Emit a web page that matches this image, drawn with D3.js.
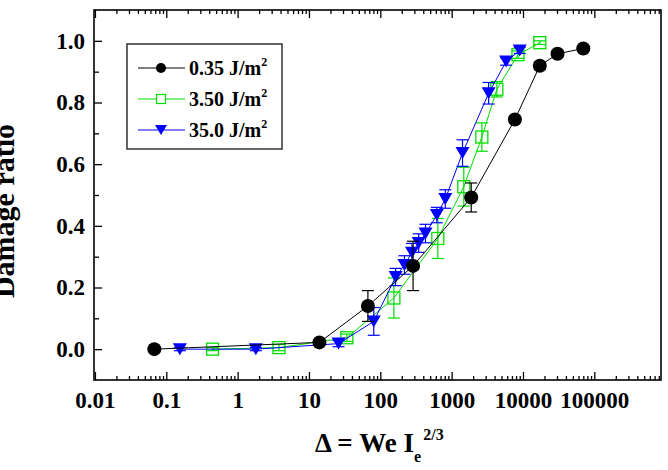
<!DOCTYPE html>
<html>
<head>
<meta charset="utf-8">
<script src="https://cdn.jsdelivr.net/npm/d3@7"></script>
<style>
  body { margin: 0; background: #fff; }
  svg { display: block; font-family: "Liberation Serif", "Times New Roman", serif; font-weight: bold; }
</style>
</head>
<body>
<svg id="chart" width="668" height="470"></svg>
<script>
// series values
var blackX = [0.068, 14, 67, 288, 1880, 7700, 17200, 30500, 70000]
var blackY = [0.0, 0.022, 0.14, 0.27, 0.492, 0.745, 0.919, 0.958, 0.975]
var blackErr = [0.005, 0.008, 0.05, 0.08, 0.047, 0.01, 0.012, 0.01, 0.008]

var greenX = [0.445, 3.8, 34, 155, 640, 1480, 2650, 4300, 8500, 17200]
var greenY = [0.0, 0.005, 0.037, 0.166, 0.359, 0.527, 0.688, 0.843, 0.955, 0.994]
var greenErr = [0.005, 0.01, 0.012, 0.065, 0.065, 0.063, 0.046, 0.025, 0.012, 0.006]

var blueX = [0.155, 1.8, 26, 81, 164, 218, 278, 345, 430, 620, 815, 1420, 3300, 5800, 9000]
var blueY = [0.0, 0.0, 0.018, 0.09, 0.234, 0.273, 0.313, 0.344, 0.375, 0.435, 0.487, 0.636, 0.83, 0.933, 0.969]
var blueErr = [0.005, 0.005, 0.01, 0.045, 0.028, 0.03, 0.03, 0.03, 0.03, 0.025, 0.03, 0.043, 0.035, 0.012, 0.01]

var legendLabels = ["0.35 J/m", "3.50 J/m", "35.0 J/m"]
var xTickValues = [0.01, 0.1, 1, 10, 100, 1000, 10000, 100000]
var xTickLabels = ["0.01", "0.1", "1", "10", "100", "1000", "10000", "100000"]
var yTickValues = [0.0, 0.2, 0.4, 0.6, 0.8, 1.0]

var margin = {top: 10, right: 7, bottom: 90, left: 94},
    width = 668 - margin.left - margin.right,
    height = 470 - margin.top - margin.bottom

var svg = d3.select("#chart")
var g = svg.append("g")
    .attr("transform", "translate(" + margin.left + "," + margin.top + ")")

var x = d3.scaleLog().domain([0.0097, 860000]).range([0, width])
var y = d3.scaleLinear().domain([-0.1, 1.1]).range([height, 0])

// minor ticks 2..9 in each decade
var xMinor = []
for (var e = -2; e <= 5; e++) {
    for (var k = 2; k <= 9; k++) {
        var v = k * Math.pow(10, e)
        if (v <= x.domain()[1]) xMinor.push(+v.toPrecision(3))
    }
}
var yMinor = [0.1, 0.3, 0.5, 0.7, 0.9]

function styleAxis(sel) {
    sel.select(".domain").remove()
    sel.selectAll("line").attr("stroke", "#000").attr("stroke-width", 1.3)
    sel.selectAll("text").attr("fill", "#000").style("font-size", "23px")
        .style("font-family", "'Liberation Serif', 'Times New Roman', serif").style("font-weight", "bold")
}

// bottom axis
g.append("g").attr("transform", "translate(0," + height + ")")
    .call(d3.axisBottom(x).tickValues(xTickValues).tickSize(-8).tickPadding(12)
        .tickFormat(function (d, i) { return xTickLabels[i] }))
    .call(styleAxis)
g.append("g").attr("transform", "translate(0," + height + ")")
    .call(d3.axisBottom(x).tickValues(xMinor).tickSize(-4).tickFormat(""))
    .call(styleAxis)

// top axis, ticks only
g.append("g")
    .call(d3.axisTop(x).tickValues(xTickValues).tickSize(-8).tickFormat(""))
    .call(styleAxis)
g.append("g")
    .call(d3.axisTop(x).tickValues(xMinor).tickSize(-4).tickFormat(""))
    .call(styleAxis)

// left axis
g.append("g")
    .call(d3.axisLeft(y).tickValues(yTickValues).tickSize(-8).tickPadding(9).tickFormat(d3.format(".1f")))
    .call(styleAxis)
g.append("g")
    .call(d3.axisLeft(y).tickValues(yMinor).tickSize(-5).tickFormat(""))
    .call(styleAxis)

// frame
g.append("rect")
    .attr("width", width).attr("height", height)
    .attr("fill", "none").attr("stroke", "#000").attr("stroke-width", 1.6)

var series = [
    {xs: greenX, ys: greenY, err: greenErr, color: "#00dd00", shape: "square"},
    {xs: blueX, ys: blueY, err: blueErr, color: "#0000ff", shape: "triangle"},
    {xs: blackX, ys: blackY, err: blackErr, color: "#000000", shape: "circle"}
]

function drawMarker(sel, shape, color) {
    if (shape === "circle") {
        sel.append("circle").attr("r", 7).attr("fill", color)
    } else if (shape === "square") {
        sel.append("rect").attr("x", -6).attr("y", -6).attr("width", 12).attr("height", 12)
            .attr("fill", "none").attr("stroke", color).attr("stroke-width", 1.3)
    } else {
        sel.append("path").attr("d", "M-7,-6L7,-6L0,6Z").attr("fill", color)
    }
}

series.forEach(function (s) {
    var pts = s.xs.map(function (d, i) { return {x: d, y: s.ys[i], e: s.err[i]} })
    var sg = g.append("g")

    var line = d3.line()
        .x(function (d) { return x(d.x) })
        .y(function (d) { return y(d.y) })
    sg.append("path").datum(pts)
        .attr("d", line).attr("fill", "none").attr("stroke", s.color).attr("stroke-width", 1)

    // error bars
    var eb = sg.selectAll(".err").data(pts).enter().append("g")
        .attr("stroke", s.color).attr("stroke-width", 1.2)
    eb.append("line")
        .attr("x1", function (d) { return x(d.x) }).attr("x2", function (d) { return x(d.x) })
        .attr("y1", function (d) { return y(d.y - d.e) }).attr("y2", function (d) { return y(d.y + d.e) })
    eb.append("line")
        .attr("x1", function (d) { return x(d.x) - 6 }).attr("x2", function (d) { return x(d.x) + 6 })
        .attr("y1", function (d) { return y(d.y + d.e) }).attr("y2", function (d) { return y(d.y + d.e) })
    eb.append("line")
        .attr("x1", function (d) { return x(d.x) - 6 }).attr("x2", function (d) { return x(d.x) + 6 })
        .attr("y1", function (d) { return y(d.y - d.e) }).attr("y2", function (d) { return y(d.y - d.e) })

    sg.selectAll(".mk").data(pts).enter().append("g")
        .attr("transform", function (d) { return "translate(" + x(d.x) + "," + y(d.y) + ")" })
        .each(function () { drawMarker(d3.select(this), s.shape, s.color) })
})

// legend
var legend = svg.append("g").attr("transform", "translate(127,44)")
legend.append("rect").attr("width", 155).attr("height", 105)
    .attr("fill", "#fff").attr("stroke", "#333").attr("stroke-width", 1.5)
var legendOrder = [series[2], series[0], series[1]]
legendOrder.forEach(function (s, i) {
    var row = legend.append("g").attr("transform", "translate(0," + (24 + i * 31) + ")")
    row.append("line").attr("x1", 11).attr("x2", 58).attr("stroke", s.color).attr("stroke-width", 1)
    var m = row.append("g").attr("transform", "translate(34,0)")
    if (s.shape === "circle") m.append("circle").attr("r", 5).attr("fill", s.color)
    else if (s.shape === "square") m.append("rect").attr("x", -4.5).attr("y", -4.5).attr("width", 9).attr("height", 9)
        .attr("fill", "#fff").attr("stroke", s.color).attr("stroke-width", 1.2)
    else m.append("path").attr("d", "M-6,-5L6,-5L0,5Z").attr("fill", s.color)
    var t = row.append("text").attr("x", 62).attr("y", 7).style("font-size", "20px")
    t.append("tspan").text(legendLabels[i])
    t.append("tspan").attr("dy", -9).style("font-size", "12px").text("2")
})

// axis titles
var xt = svg.append("text").attr("x", 315).attr("y", 452).style("font-size", "27px")
xt.append("tspan").text("\u0394 = We I")
xt.append("tspan").attr("dy", 10).style("font-size", "16px").text("e")
xt.append("tspan").attr("dy", -22).attr("dx", 2).style("font-size", "16px").text("2/3")

svg.append("text")
    .attr("transform", "translate(14,211) rotate(-90)")
    .attr("text-anchor", "middle")
    .style("font-size", "30px")
    .text("Damage ratio")
</script>
</body>
</html>
